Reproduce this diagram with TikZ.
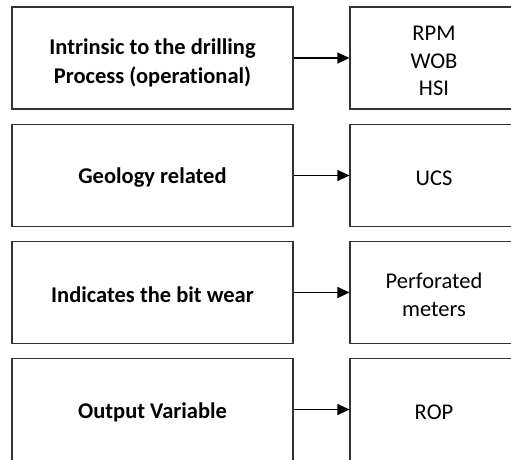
\documentclass[tikz,border=0pt]{standalone}
\usepackage{fontspec}
\setmainfont[Ligatures={NoCommon}]{Carlito}
\usetikzlibrary{arrows.meta}
\begin{document}
\begin{tikzpicture}[x=1pt,y=1pt,
  box/.style={draw=black!80, line width=1.1pt, inner sep=0pt, minimum height=102pt},
  leftbox/.style={box, minimum width=281pt},
  rightbox/.style={box, minimum width=168pt},
  lefttxt/.style={align=center, inner sep=0pt, text=black, font=\fontsize{22.5}{28.5}\selectfont\bfseries},
  righttxt/.style={align=center, inner sep=0pt, text=black, font=\fontsize{22.5}{27.5}\selectfont},
  conn/.style={line width=1.3pt, draw=black, -{Triangle[length=12pt,width=11pt]}}]
\useasboundingbox (0,0) rectangle (511,459);
\clip (0,0) rectangle (511,459);
\node[leftbox] (l1) at (152.5,401) {};
\node[leftbox] (l2) at (152.5,283.5) {};
\node[leftbox] (l3) at (152.5,166.5) {};
\node[leftbox] (l4) at (152.5,49.5) {};
\node[rightbox] (r1) at (434,401) {};
\node[rightbox] (r2) at (434,283.5) {};
\node[rightbox] (r3) at (434,166.5) {};
\node[rightbox] (r4) at (434,49.5) {};
\node[lefttxt] (l1t) at ([yshift=-5pt]l1.center) {Intrinsic to the drilling\\Process (operational)};
\node[lefttxt] (l2t) at ([yshift=-2.5pt]l2.center) {Geology related};
\node[lefttxt] (l3t) at ([yshift=-2.5pt]l3.center) {Indicates the bit wear};
\node[lefttxt] (l4t) at ([yshift=-2.5pt]l4.center) {Output Variable};
\node[righttxt] (r1t) at ([yshift=-3pt]r1.center) {RPM\\WOB\\HSI};
\node[righttxt] (r2t) at ([yshift=-2.5pt]r2.center) {UCS};
\node[righttxt] (r3t) at ([yshift=-2.5pt]r3.center) {Perforated\\meters};
\node[righttxt] (r4t) at ([yshift=-2.5pt]r4.center) {ROP};
\draw[conn] (l1) -- (r1);
\draw[conn] (l2) -- (r2);
\draw[conn] (l3) -- (r3);
\draw[conn] (l4) -- (r4);
\end{tikzpicture}
\end{document}
